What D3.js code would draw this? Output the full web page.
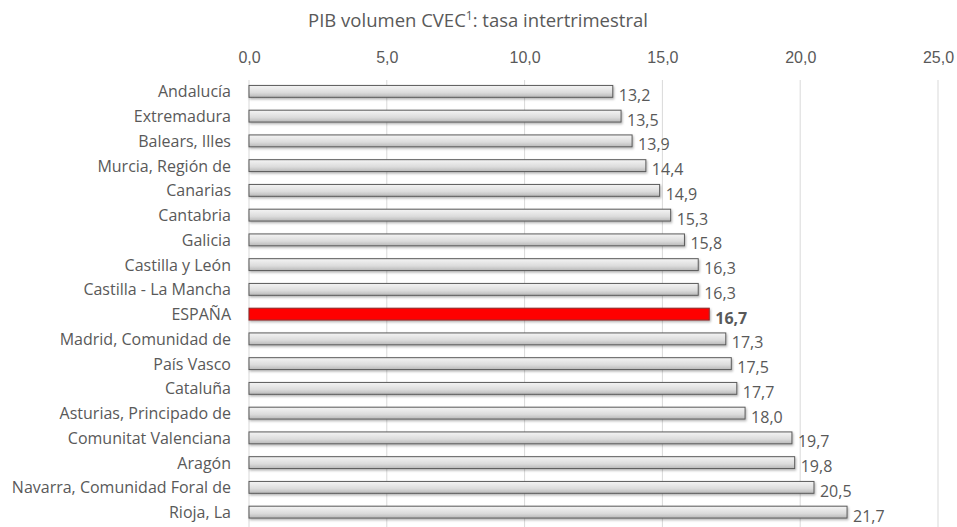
<html>
  <head>
    <meta charset="utf-8">
    <script src="https://cdnjs.cloudflare.com/ajax/libs/d3/7.8.5/d3.min.js"></script>
    <style>
      body { margin: 0; background: #fff; }
      svg { display: block; font-family: "Open Sans", "Noto Sans", sans-serif; }
    </style>
  </head>
  <body>
    <svg></svg>
    <script>
      const regions = ["Andalucía", "Extremadura", "Balears, Illes", "Murcia, Región de", "Canarias", "Cantabria",
        "Galicia", "Castilla y León", "Castilla - La Mancha", "ESPAÑA", "Madrid, Comunidad de", "País Vasco",
        "Cataluña", "Asturias, Principado de", "Comunitat Valenciana", "Aragón", "Navarra, Comunidad Foral de", "Rioja, La"];
      const values = [13.2, 13.5, 13.9, 14.4, 14.9, 15.3, 15.8, 16.3, 16.3, 16.7, 17.3, 17.5, 17.7, 18.0, 19.7, 19.8, 20.5, 21.7];
      const ticks = [0, 5, 10, 15, 20, 25];
      const highlight = "ESPAÑA";

      const width = 957, height = 527;
      const svg = d3.select("svg").attr("width", width).attr("height", height);

      const x = d3.scaleLinear().domain([0, 25]).range([249, 938]);
      const y = d3.scaleBand().domain(regions).range([79, 524.5]).paddingInner(0.52).paddingOuter(0.26);
      const fmt = v => d3.format(".1f")(v).replace(".", ",");

      const defs = svg.append("defs");
      const grad = defs.append("linearGradient").attr("id", "g").attr("x1", 0).attr("y1", 0).attr("x2", 0).attr("y2", 1);
      grad.append("stop").attr("offset", "0%").attr("stop-color", "#f4f4f4");
      grad.append("stop").attr("offset", "60%").attr("stop-color", "#dcdcdc");
      grad.append("stop").attr("offset", "100%").attr("stop-color", "#b8b8b8");
      const sh = defs.append("filter").attr("id", "sh").attr("x", "-5%").attr("y", "-50%").attr("width", "110%").attr("height", "200%");
      sh.append("feDropShadow").attr("dx", 1).attr("dy", 1.5).attr("stdDeviation", 1).attr("flood-color", "#000").attr("flood-opacity", 0.3);

      // title
      svg.append("text").attr("x", 478).attr("y", 27).attr("text-anchor", "middle")
        .attr("fill", "#595959").style("font-size", "18.5px")
        .html('PIB volumen CVEC<tspan dy="-7" font-size="12px">1</tspan><tspan dy="7">: tasa intertrimestral</tspan>');

      // grid and top axis
      const axis = svg.append("g").attr("transform", "translate(0,80)")
        .call(d3.axisTop(x).tickValues(ticks).tickFormat(fmt).tickSize(0).tickPadding(17));
      axis.select(".domain").remove();
      axis.selectAll("text").attr("fill", "#595959").style("font-size", "16px").style("font-family", "inherit");

      svg.append("g").selectAll("line").data(ticks).join("line")
        .attr("x1", d => x(d)).attr("x2", d => x(d))
        .attr("y1", 80).attr("y2", height)
        .attr("stroke", "#d9d9d9").attr("stroke-width", 1);

      // bars
      svg.append("g").selectAll("rect").data(regions).join("rect")
        .attr("x", x(0))
        .attr("y", d => y(d))
        .attr("width", (d, i) => x(values[i]) - x(0))
        .attr("height", y.bandwidth())
        .attr("fill", d => d === highlight ? "#ff0000" : "url(#g)")
        .attr("stroke", d => d === highlight ? "#8a2a2a" : "#5a5a5a")
        .attr("stroke-width", 1)
        .attr("filter", "url(#sh)");

      // category labels
      svg.append("g").selectAll("text").data(regions).join("text")
        .attr("x", 231)
        .attr("y", d => y(d) + y.bandwidth() / 2 + 0.5)
        .attr("dy", "0.35em")
        .attr("text-anchor", "end")
        .attr("fill", "#595959")
        .style("font-size", "16px")
        .text(d => d);

      // value labels
      svg.append("g").selectAll("text").data(regions).join("text")
        .attr("x", (d, i) => x(values[i]) + 6)
        .attr("y", d => y(d) + y.bandwidth() / 2 + 4)
        .attr("dy", "0.35em")
        .attr("fill", "#595959")
        .style("font-size", "16px")
        .style("font-weight", d => d === highlight ? "bold" : "normal")
        .text((d, i) => fmt(values[i]));
    </script>
  </body>
</html>
